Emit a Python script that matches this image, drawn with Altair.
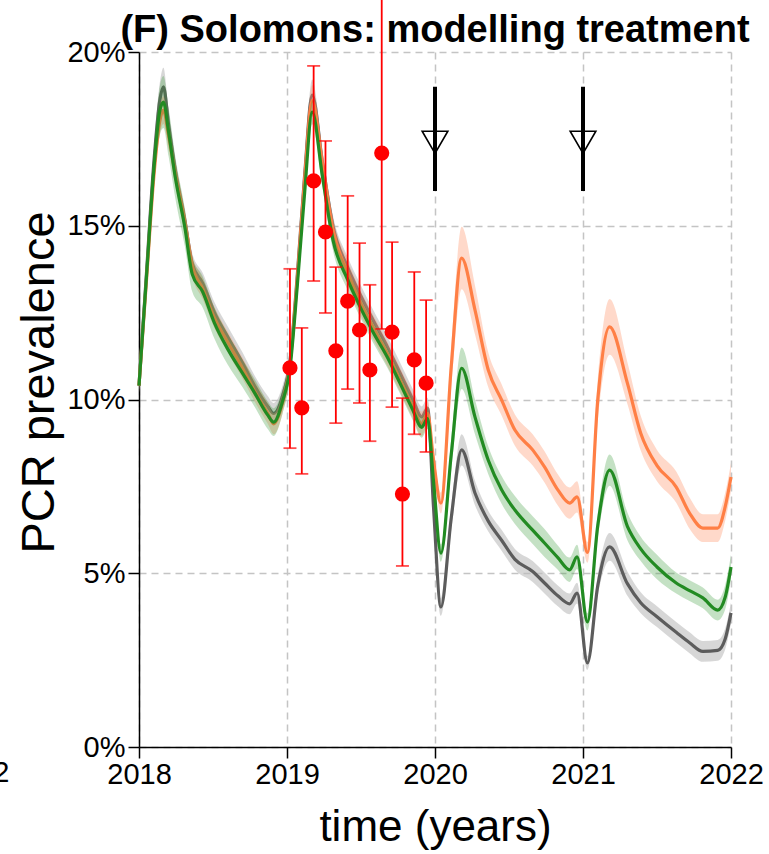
import altair as alt
import pandas as pd

# ---------------- data ----------------
times = [2018.00, 2018.05, 2018.10, 2018.14, 2018.165, 2018.20, 2018.245, 2018.31, 2018.36, 2018.43,
         2018.51, 2018.60, 2018.70, 2018.78, 2018.87, 2018.91, 2018.97, 2019.02, 2019.07, 2019.12,
         2019.17, 2019.24, 2019.31, 2019.41, 2019.49, 2019.58, 2019.68, 2019.76, 2019.85, 2019.91,
         2019.95, 2019.99, 2020.04, 2020.11, 2020.18, 2020.27, 2020.36, 2020.45, 2020.54, 2020.66,
         2020.74, 2020.83, 2020.91, 2020.96, 2021.03, 2021.10, 2021.18, 2021.30, 2021.39, 2021.50,
         2021.63, 2021.72, 2021.81, 2021.91, 2021.96, 2022.00]

grey_mid = [10.4, 13.6, 16.8, 18.6, 19.0, 17.9, 16.6, 15.15, 13.9, 13.35,
            12.5, 11.8, 11.05, 10.4, 9.8, 9.6, 10.1, 11.1, 13.6, 16.5,
            18.76, 16.8, 15.0, 13.8, 13.06, 12.3, 11.5, 10.8, 10.0, 9.5,
            9.75, 6.9, 4.03, 6.6, 8.55, 7.31, 6.5, 5.95, 5.4, 5.05,
            4.72, 4.35, 4.12, 4.43, 2.42, 4.65, 5.76, 4.7, 4.15, 3.75,
            3.3, 3.0, 2.75, 2.78, 3.1, 3.86]
grey_half = [0.2, 0.3, 0.4, 0.5, 0.55, 0.45, 0.35, 0.3, 0.3, 0.3,
             0.3, 0.3, 0.3, 0.3, 0.3, 0.3, 0.3, 0.3, 0.35, 0.4,
             0.45, 0.35, 0.3, 0.3, 0.3, 0.3, 0.3, 0.3, 0.3, 0.3,
             0.3, 0.3, 0.25, 0.35, 0.45, 0.35, 0.3, 0.3, 0.3, 0.3,
             0.3, 0.3, 0.3, 0.3, 0.2, 0.3, 0.4, 0.35, 0.3, 0.3,
             0.3, 0.3, 0.3, 0.3, 0.3, 0.3]

orange_mid = [10.4, 13.4, 16.4, 18.0, 18.33, 17.6, 16.5, 15.1, 13.85, 13.2,
              12.35, 11.65, 10.9, 10.25, 9.6, 9.3, 9.9, 11.0, 13.5, 16.4,
              18.6, 16.75, 14.9, 13.65, 12.85, 12.1, 11.3, 10.6, 9.8, 9.3,
              9.6, 8.26, 7.02, 10.96, 14.07, 12.58, 10.85, 9.99, 9.12, 8.55,
              8.06, 7.4, 7.02, 7.2, 5.6, 10.0, 12.09, 10.47, 9.03, 8.1,
              7.48, 6.73, 6.3, 6.3, 6.9, 7.77]
orange_half = [0.2, 0.3, 0.35, 0.4, 0.4, 0.4, 0.35, 0.35, 0.3, 0.3,
               0.3, 0.3, 0.3, 0.3, 0.3, 0.3, 0.3, 0.3, 0.35, 0.4,
               0.45, 0.4, 0.35, 0.35, 0.35, 0.35, 0.35, 0.35, 0.35, 0.35,
               0.35, 0.3, 0.3, 0.6, 0.9, 0.7, 0.5, 0.45, 0.45, 0.45,
               0.45, 0.45, 0.45, 0.45, 0.3, 0.6, 0.8, 0.6, 0.5, 0.45,
               0.45, 0.45, 0.4, 0.4, 0.4, 0.4]

green_mid = [10.4, 13.5, 16.6, 18.3, 18.56, 17.7, 16.4, 14.95, 13.6, 13.1,
             12.2, 11.45, 10.75, 10.2, 9.55, 9.35, 9.95, 10.9, 13.3, 16.0,
             18.27, 16.4, 14.6, 13.45, 12.7, 11.95, 11.2, 10.5, 9.7, 9.2,
             9.45, 7.65, 5.58, 8.43, 10.9, 9.5, 8.25, 7.4, 6.82, 6.24,
             5.87, 5.45, 5.1, 5.47, 3.6, 6.38, 7.97, 6.35, 5.7, 5.18,
             4.72, 4.5, 4.29, 3.94, 4.3, 5.18]
green_half = [0.2, 0.35, 0.5, 0.7, 0.75, 0.7, 0.6, 0.55, 0.5, 0.45,
              0.45, 0.45, 0.4, 0.4, 0.4, 0.4, 0.35, 0.3, 0.3, 0.35,
              0.35, 0.3, 0.3, 0.3, 0.3, 0.3, 0.3, 0.3, 0.3, 0.3,
              0.3, 0.3, 0.25, 0.45, 0.6, 0.5, 0.4, 0.4, 0.4, 0.4,
              0.4, 0.35, 0.35, 0.35, 0.25, 0.35, 0.45, 0.4, 0.35, 0.35,
              0.3, 0.3, 0.3, 0.3, 0.35, 0.35]

obs_time = [2019.02, 2019.10, 2019.18, 2019.26, 2019.33, 2019.41, 2019.49,
            2019.56, 2019.64, 2019.71, 2019.78, 2019.86, 2019.94]
obs_value = [10.91, 9.76, 16.29, 14.82, 11.40, 12.83, 12.0,
             10.85, 17.09, 11.94, 7.28, 11.14, 10.47]
obs_lower = [8.6, 7.86, 13.41, 12.49, 9.32, 10.30, 9.9,
             8.8, 12.03, 9.78, 5.21, 9.0, 8.49]
obs_upper = [13.76, 12.06, 19.6, 17.44, 13.81, 15.86, 14.5,
             13.3, 21.6, 14.53, 10.04, 13.67, 12.86]

treat_time = [2020.0, 2021.0]
treat_top = [19.0, 19.0]
treat_bottom = [16.0, 16.0]
treat_marker = [17.4, 17.4]

x_ticks = [2018, 2019, 2020, 2021, 2022]
y_ticks = [0, 5, 10, 15, 20]

title_text = ["(F) Solomons: modelling treatment"]
title_t = [2020.0]
title_v = [20.3]

# fragment of the neighbouring panel's tick label, visible at the left edge
stray_text = ["2022"]
stray_t = [2017.125]
stray_v = [-0.75]

FONT = "Liberation Sans, Arial, sans-serif"

series = {
    "grey": (grey_mid, grey_half, "#5c5c5c", "#bdbdbd", 0.6),
    "orange": (orange_mid, orange_half, "#ff7f45", "#ffa07a", 0.4),
    "green": (green_mid, green_half, "#228b22", "#3a9a3a", 0.3),
}

xs = alt.Scale(domain=[2018, 2022], nice=False, zero=False)
ys = alt.Scale(domain=[0, 20], nice=False, zero=False)

x_axis = alt.Axis(values=x_ticks, format="d", title="time (years)", grid=True, labelFlush=False)
y_axis = alt.Axis(values=y_ticks, labelExpr="datum.value + '%'", title="PCR prevalence",
                  grid=True, labelFlush=False, titleX=-76, titleY=330)


def X(field):
    return alt.X(field, scale=xs, axis=x_axis)


def Y(field):
    return alt.Y(field, scale=ys, axis=y_axis)


layers = []
for name, (mid, half, lc, bc, bop) in series.items():
    df = pd.DataFrame({
        "t": times,
        "v": mid,
        "lo": [m - h for m, h in zip(mid, half)],
        "hi": [m + h for m, h in zip(mid, half)],
    })
    band = alt.Chart(df).mark_area(color=bc, opacity=bop, interpolate="monotone").encode(
        x=X("t:Q"), y=Y("lo:Q"), y2="hi:Q")
    line = alt.Chart(df).mark_line(color=lc, strokeWidth=3.2, interpolate="monotone").encode(
        x=X("t:Q"), y=Y("v:Q"))
    layers += [band, line]

obs = pd.DataFrame({"t": obs_time, "v": obs_value, "lo": obs_lower, "hi": obs_upper})
err = alt.Chart(obs).mark_rule(color="#ff0000", strokeWidth=1.8).encode(
    x=X("t:Q"), y=Y("lo:Q"), y2="hi:Q")
cap_lo = alt.Chart(obs).mark_tick(color="#ff0000", orient="horizontal", size=13, thickness=1.8).encode(
    x=X("t:Q"), y=Y("lo:Q"))
cap_hi = alt.Chart(obs).transform_filter("datum.hi <= 20").mark_tick(
    color="#ff0000", orient="horizontal", size=13, thickness=1.8).encode(
    x=X("t:Q"), y=Y("hi:Q"))
dots = alt.Chart(obs).mark_point(filled=True, color="#ff0000", size=230, opacity=1).encode(
    x=X("t:Q"), y=Y("v:Q"))

tr = pd.DataFrame({"t": treat_time, "top": treat_top, "bot": treat_bottom, "m": treat_marker})
tr_rule = alt.Chart(tr).mark_rule(color="black", strokeWidth=4).encode(
    x=X("t:Q"), y=Y("bot:Q"), y2="top:Q")
tr_tri = alt.Chart(tr).mark_point(shape="triangle-down", filled=False, color="black",
                                  strokeWidth=1.6, size=660, opacity=1).encode(
    x=X("t:Q"), y=Y("m:Q"))

ttl = pd.DataFrame({"t": title_t, "v": title_v, "s": title_text})
title_mark = alt.Chart(ttl).mark_text(align="center", baseline="alphabetic", fontSize=38,
                                      fontWeight="bold", font=FONT, color="black").encode(
    x=X("t:Q"), y=Y("v:Q"), text="s:N")

stray = pd.DataFrame({"t": stray_t, "v": stray_v, "s": stray_text})
stray_txt = alt.Chart(stray).mark_text(align="right", baseline="middle", fontSize=29,
                                       font=FONT, color="black").encode(
    x=X("t:Q"), y=Y("v:Q"), text="s:N")

chart = alt.layer(*layers, err, cap_lo, cap_hi, dots, tr_rule, tr_tri,
                  title_mark, stray_txt).properties(
    width=592, height=695,
    autosize="none",
    padding={"left": 139, "top": 52, "right": 38, "bottom": 107},
).configure_view(strokeWidth=0).configure_axis(
    domainColor="black", domainWidth=1.5, tickColor="black", tickWidth=1.5, tickSize=11,
    labelFont=FONT, labelFontSize=29, labelColor="black",
    titleFont=FONT, titleFontWeight="normal", titleColor="black",
    gridColor="#c4c4c4", gridDash=[7, 5], gridWidth=1.5,
).configure_axisX(
    labelPadding=2, titleFontSize=44, titlePadding=16,
).configure_axisY(
    labelPadding=3, titleFontSize=47,
)

chart.save("out.html", embed_options={"renderer": "svg", "actions": False})
